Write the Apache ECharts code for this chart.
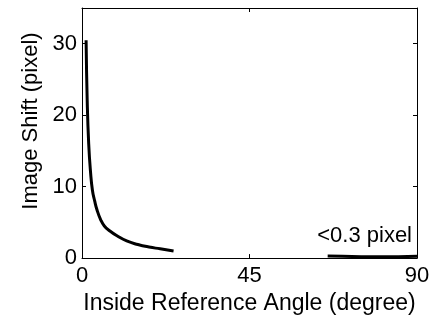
<!DOCTYPE html>
<html>
<head>
<meta charset="utf-8">
<script src="https://cdn.jsdelivr.net/npm/echarts@6/dist/echarts.min.js"></script>
<style>
  html, body { margin: 0; padding: 0; background: #fff; }
  #chart { width: 435px; height: 320px; }
</style>
</head>
<body>
<div id="chart"></div>
<script>
// shift vs. inside reference angle
const angles = [1.1, 1.4, 1.8, 2.3, 2.8, 3.4, 4, 5, 6, 7.5, 9.5, 12, 15, 18, 21, 24.6];
const shifts = [30.5, 22, 16, 12, 9.5, 8, 6.8, 5.4, 4.5, 3.8, 3.1, 2.4, 1.9, 1.55, 1.3, 1.0];

// small residual shift at large angles
const tailAngles = [66, 70, 75, 80, 85, 90];
const tailShifts = [0.28, 0.25, 0.2, 0.18, 0.2, 0.25];

const xTicks = [0, 45, 90];
const yTicks = [0, 10, 20, 30];

const FONT = "'Liberation Sans', Arial, sans-serif";

const chart = echarts.init(document.getElementById('chart'));

const tickStyle = { inside: true, length: 4, lineStyle: { color: '#000', width: 1 } };
const lineStyle = { onZero: false, lineStyle: { color: '#000', width: 1 } };

chart.setOption({
  backgroundColor: '#fff',
  animation: false,
  grid: { left: 82, right: 18, top: 8, bottom: 61 },
  xAxis: [
    {
      type: 'value',
      min: 0,
      max: 90,
      interval: 45,
      name: 'Inside Reference Angle (degree)',
      nameLocation: 'middle',
      nameGap: 31,
      nameTextStyle: { color: '#000', fontSize: 23, fontFamily: FONT },
      axisLine: lineStyle,
      axisTick: tickStyle,
      axisLabel: {
        color: '#000', fontSize: 22, fontFamily: FONT, margin: 7,
        formatter: v => (xTicks.includes(v) ? String(v) : '')
      },
      splitLine: { show: false }
    },
    {
      type: 'value',
      position: 'top',
      min: 0,
      max: 90,
      interval: 45,
      axisLine: lineStyle,
      axisTick: tickStyle,
      axisLabel: { show: false },
      splitLine: { show: false }
    }
  ],
  yAxis: [
    {
      type: 'value',
      min: 0,
      max: 35,
      interval: 10,
      name: 'Image Shift (pixel)',
      nameLocation: 'middle',
      nameRotate: 90,
      nameGap: 36,
      nameTextStyle: { color: '#000', fontSize: 22, fontFamily: FONT, padding: [0, 0, 0, 24] },
      axisLine: lineStyle,
      axisTick: tickStyle,
      axisLabel: {
        color: '#000', fontSize: 22, fontFamily: FONT, margin: 5,
        showMaxLabel: false,
        formatter: v => (yTicks.includes(v) ? String(v) : '')
      },
      splitLine: { show: false }
    },
    {
      type: 'value',
      position: 'right',
      min: 0,
      max: 35,
      interval: 10,
      axisLine: lineStyle,
      axisTick: tickStyle,
      axisLabel: { show: false },
      splitLine: { show: false }
    }
  ],
  graphic: [
    {
      type: 'text',
      right: 23,
      top: 225,
      style: { text: '<0.3 pixel', fill: '#000', font: '22px ' + FONT }
    }
  ],
  series: [
    {
      type: 'line',
      data: angles.map((a, i) => [a, shifts[i]]),
      smooth: true,
      showSymbol: false,
      lineStyle: { color: '#000', width: 3 }
    },
    {
      type: 'line',
      data: tailAngles.map((a, i) => [a, tailShifts[i]]),
      showSymbol: false,
      lineStyle: { color: '#000', width: 3 }
    }
  ]
});
</script>
</body>
</html>
